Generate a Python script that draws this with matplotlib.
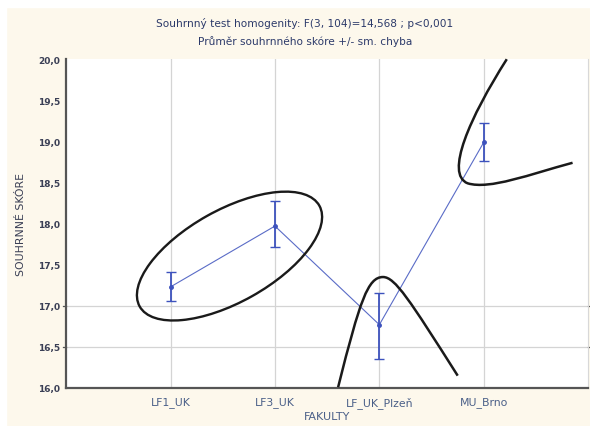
import matplotlib
matplotlib.use("Agg")
import matplotlib.pyplot as plt
import numpy as np
from matplotlib.patches import Ellipse, PathPatch, Rectangle
from matplotlib.path import Path
from matplotlib.transforms import ScaledTranslation

# data
faculties = ["LF1_UK", "LF3_UK", "LF_UK_Plzeň", "MU_Brno"]
means = [17.23, 17.97, 16.77, 18.99]
err_low = [17.06, 17.71, 16.35, 18.76]
err_high = [17.41, 18.28, 17.16, 19.22]
y_ticks = [16.0, 16.5, 17.0, 17.5, 18.0, 18.5, 19.0, 19.5, 20.0]
y_ticklabels = ["16,0", "16,5", "17,0", "17,5", "18,0", "18,5", "19,0", "19,5", "20,0"]
grid_rows = [16.5, 17.0]

title = ("Souhrnný test homogenity: F(3, 104)=14,568 ; p<0,001\n"
         "Průměr souhrnného skóre +/- sm. chyba")

bg = "#fdf8ec"
blue = "#3d52bd"

fig = plt.figure(figsize=(5.9, 4.27), dpi=100, facecolor=bg)
# thin white margin along the top and left edge
fig.patches.append(Rectangle((0, 0.981), 1, 0.02, transform=fig.transFigure,
                             color="white", zorder=0))
fig.patches.append(Rectangle((0, 0), 0.01, 1, transform=fig.transFigure,
                             color="white", zorder=0))

ax = fig.add_axes([0.112, 0.089, 0.885, 0.77])
ax.set_facecolor("white")

x = np.arange(len(faculties))
means = np.array(means)
yerr = [means - np.array(err_low), np.array(err_high) - means]

# grid
for xi in x:
    ax.axvline(xi, color="#d4d4d4", lw=0.9, zorder=0)
for yr in grid_rows:
    ax.axhline(yr, color="#d4d4d4", lw=0.9, zorder=0)

ax.plot(x, means, color=blue, lw=0.8, alpha=0.85, zorder=2)
ax.errorbar(x, means, yerr=yerr, fmt="o", ms=2.5, color=blue, ecolor=blue,
            elinewidth=1.3, capsize=3.5, capthick=1.0, zorder=3)

ax.set_xlim(-1, 4)
ax.set_ylim(16, 20)
ax.set_xticks(x)
ax.set_xticklabels(faculties, fontsize=7.8, color="#4a5f88")
ax.set_yticks(y_ticks)
ax.set_yticklabels(y_ticklabels, fontsize=6.5, color="#3a3f55", fontweight="bold")
ax.tick_params(axis="x", length=0, pad=6)
ax.tick_params(axis="y", length=0, pad=4)
for yr in grid_rows:
    ax.plot([-1.03, -1.0], [yr, yr], color="#555555", lw=0.9, clip_on=False)
    ax.plot([4.0, 4.03], [yr, yr], color="#555555", lw=0.9, clip_on=False)

ax.set_xlabel("FAKULTY", fontsize=8, color="#4a5f88", labelpad=2)
ax.set_ylabel("SOUHRNNÉ SKÓRE", fontsize=7.8, color="#3a3f55", labelpad=9)

ax.spines["top"].set_visible(False)
ax.spines["right"].set_color("#d8d8d8")
ax.spines["left"].set_color("#555555")
ax.spines["bottom"].set_color("#555555")
ax.spines["left"].set_linewidth(1.6)
ax.spines["bottom"].set_linewidth(1.6)

fig.text(0.517, 0.924, title, ha="center", va="center", fontsize=7.6,
         color="#2c3a6a", linespacing=1.75)

# hand-drawn annotations
ell = Ellipse((0, 0), 2.06, 0.92, angle=29.3, fill=False, lw=1.7, color="#1a1a1a",
              transform=fig.dpi_scale_trans + ScaledTranslation(0.565, 17.605, ax.transData),
              zorder=4)
ax.add_patch(ell)

bump = Path([(1.605, 16.01), (1.815, 17.07), (1.89, 17.35), (2.035, 17.35),
             (2.15, 17.35), (2.29, 17.07), (2.75, 16.15)],
            [Path.MOVETO, Path.CURVE4, Path.CURVE4, Path.CURVE4,
             Path.CURVE4, Path.CURVE4, Path.CURVE4])
ax.add_patch(PathPatch(bump, fill=False, lw=1.8, color="#1a1a1a", zorder=4))

hook = Path([(3.22, 20.0), (2.865, 19.29), (2.625, 18.60), (2.846, 18.49),
             (3.056, 18.41), (3.44, 18.60), (3.85, 18.74)],
            [Path.MOVETO, Path.CURVE4, Path.CURVE4, Path.CURVE4,
             Path.CURVE4, Path.CURVE4, Path.CURVE4])
ax.add_patch(PathPatch(hook, fill=False, lw=1.8, color="#1a1a1a", zorder=4,
                       clip_on=False))

fig.savefig("out.png", dpi=100, facecolor=bg)
